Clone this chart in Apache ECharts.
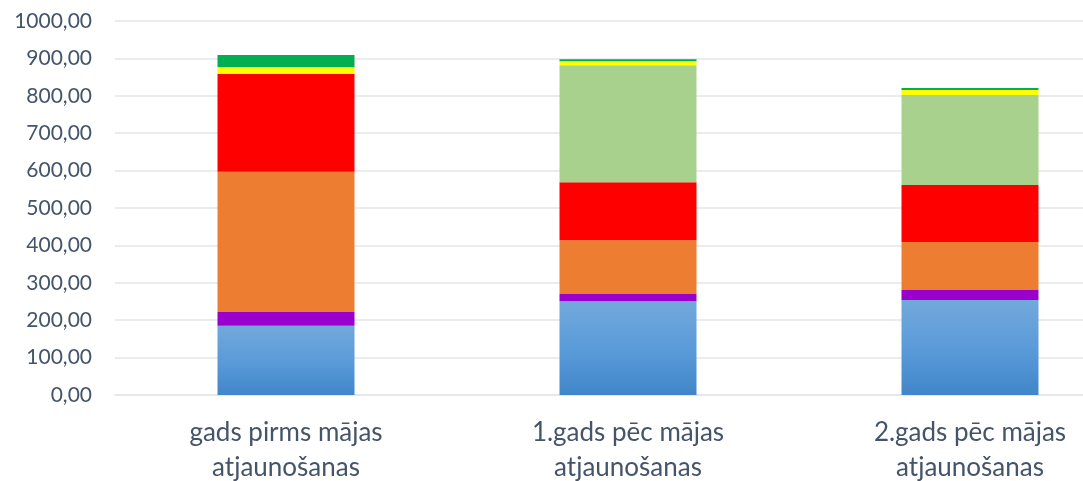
<!DOCTYPE html>
<html>
<head>
<meta charset="utf-8">
<script src="https://cdn.jsdelivr.net/npm/echarts@6/dist/echarts.min.js"></script>
<style>html,body{margin:0;padding:0;background:#fff;}#c{width:1083px;height:481px;}</style>
</head>
<body>
<div id="c"></div>
<script>
var categories = ['gads pirms mājas\natjaunošanas', '1.gads pēc mājas\natjaunošanas', '2.gads pēc mājas\natjaunošanas'];
var yTickLabels = ['0,00','100,00','200,00','300,00','400,00','500,00','600,00','700,00','800,00','900,00','1000,00'];
var seriesNames = ['Komponente 1','Komponente 2','Komponente 3','Komponente 4','Komponente 5','Komponente 6','Komponente 7'];
var blueVals = [185, 251, 254];
var purpleVals = [37, 19, 27];
var orangeVals = [375, 144, 128];
var redVals = [261, 155, 152.5];
var lightGreenVals = [0, 312.5, 240.5];
var yellowVals = [19, 11, 13.5];
var greenVals = [32, 5, 5.5];

var textColor = '#44546A';
var font = 'Lato';
var colors = [
  {type:'linear',x:0,y:0,x2:0,y2:1,colorStops:[{offset:0,color:'#72A9DC'},{offset:0.5,color:'#5B9BD9'},{offset:1,color:'#4186C9'}]},
  '#9900CC','#ED7D31','#FF0000','#A9D18E','#FFFF00','#00B050'
];
var dataSets = [blueVals, purpleVals, orangeVals, redVals, lightGreenVals, yellowVals, greenVals];
var series = dataSets.map(function(d, i){
  return {name: seriesNames[i], type:'bar', stack:'total', data:d, barWidth:137,
          itemStyle:{color: colors[i]}, animation:false, emphasis:{disabled:true}};
});
var chart = echarts.init(document.getElementById('c'));
chart.setOption({
  animation:false,
  grid:{left:115, right:-58, top:21, bottom:86, containLabel:false, outerBoundsMode:'none'},
  xAxis:{type:'category', data:categories,
    axisLine:{show:true, lineStyle:{color:'#E3E6EA', width:1.5}},
    axisTick:{show:false},
    axisLabel:{color:textColor, fontFamily:font, fontSize:26, lineHeight:35, margin:20, interval:0}},
  yAxis:{type:'value', min:0, max:1000, interval:100,
    axisLine:{show:false}, axisTick:{show:false},
    splitLine:{lineStyle:{color:'#E3E6EA', width:1.5}},
    axisLabel:{color:textColor, fontFamily:font, fontSize:21, margin:23,
      formatter:function(v){ return yTickLabels[Math.round(v/100)]; }}},
  series: series
});
</script>
</body>
</html>
